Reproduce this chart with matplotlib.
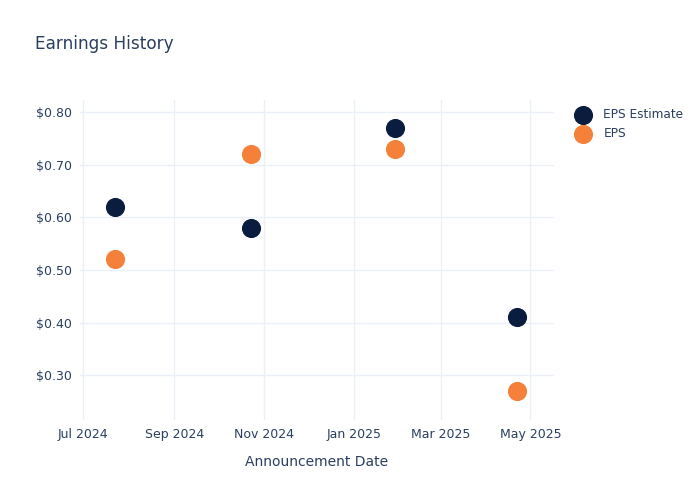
import datetime as dt
import matplotlib
matplotlib.use("Agg")
import matplotlib.pyplot as plt
import matplotlib.dates as mdates
from matplotlib.ticker import FuncFormatter

dates = ["2024-07-23", "2024-10-23", "2025-01-29", "2025-04-22"]
eps_estimate = [0.62, 0.58, 0.77, 0.41]
eps_actual = [0.52, 0.72, 0.73, 0.27]

text_color = "#2a3f5f"
grid_color = "#ebf0f8"
navy = "#0b1d3f"
orange = "#f5803a"

x = [dt.datetime.strptime(d, "%Y-%m-%d") for d in dates]

fig = plt.figure(figsize=(7, 5), dpi=100)
ax = fig.add_axes([80 / 700, 80 / 500, 474 / 700, 320 / 500])

ax.scatter(x, eps_estimate, s=190, color=navy, label="EPS Estimate", zorder=3, linewidths=0)
ax.scatter(x, eps_actual, s=190, color=orange, label="EPS", zorder=3, linewidths=0)

ax.set_xlim(dt.datetime(2024, 6, 29), dt.datetime(2025, 5, 17))
ax.set_ylim(0.215, 0.823)
ax.set_yticks([0.3, 0.4, 0.5, 0.6, 0.7, 0.8])
ax.yaxis.set_major_formatter(FuncFormatter(lambda v, p: f"${v:.2f}"))
ax.xaxis.set_major_locator(mdates.MonthLocator(bymonth=[1, 3, 5, 7, 9, 11]))
ax.xaxis.set_major_formatter(mdates.DateFormatter("%b %Y"))

for s in ax.spines.values():
    s.set_visible(False)
ax.grid(True, color=grid_color, linewidth=1)
ax.set_axisbelow(True)
ax.tick_params(length=0, colors=text_color, labelsize=9, pad=6)

ax.set_xlabel("Announcement Date", color=text_color, fontsize=10, labelpad=10)
fig.text(35 / 700, 1 - 44 / 500, "Earnings History", color=text_color, fontsize=12.2, va="center")

leg = ax.legend(loc="upper left", bbox_to_anchor=(1.02, 0.997), frameon=False,
                fontsize=8.7, labelcolor=text_color, handletextpad=0.7,
                labelspacing=0.5, borderaxespad=0.2)

fig.savefig("out.png", dpi=100)
